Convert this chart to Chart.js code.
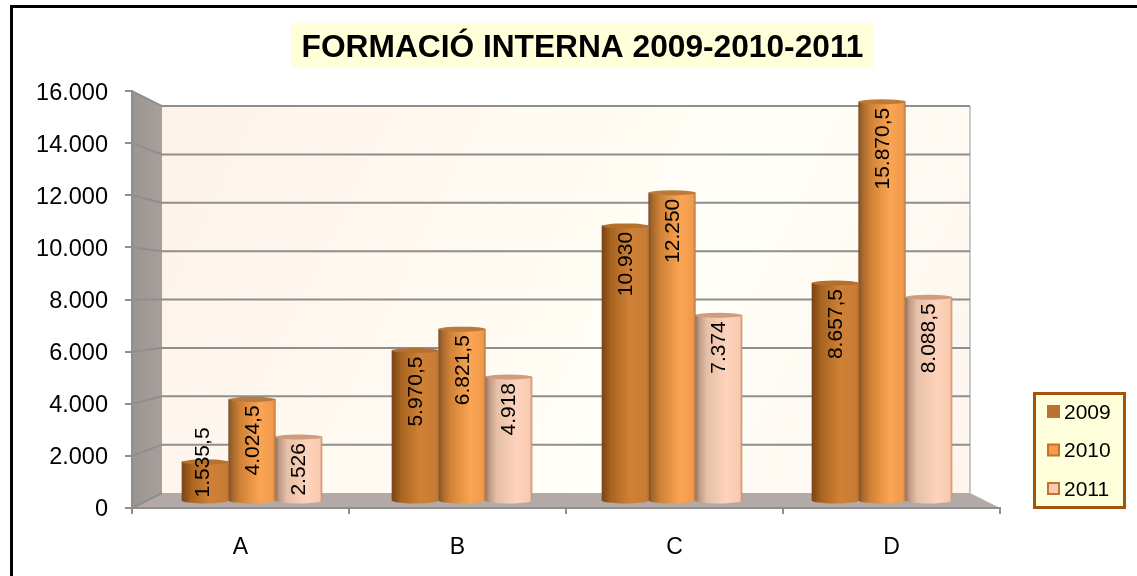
<!DOCTYPE html>
<html><head><meta charset="utf-8">
<style>html,body{margin:0;padding:0;background:#fff;overflow:hidden}#w{position:relative;width:1137px;height:576px}</style>
<script src="https://cdn.jsdelivr.net/npm/chart.js@4"></script>
</head><body><div id="w"><canvas id="c" width="1137" height="576"></canvas></div>
<script>
const categories = ['A','B','C','D'];
const seriesNames = ['2009','2010','2011'];
const values2009 = [1535.5, 5970.5, 10930, 8657.5];
const values2010 = [4024.5, 6821.5, 12250, 15870.5];
const values2011 = [2526, 4918, 7374, 8088.5];
const yMin = 0, yMax = 16000, yStep = 2000;
const fontName = '"Liberation Sans", Arial, sans-serif';

const fmt = v => {
  const [i, d] = String(v).split('.');
  return i.replace(/\B(?=(\d{3})+$)/g, '.') + (d ? ',' + d : '');
};
const stops = [
  [[0,'#7a4518'],[.2,'#a9641f'],[.6,'#d08136'],[.95,'#c87b34'],[1,'#b06c30']],
  [[0,'#7f5028'],[.07,'#a2662c'],[.25,'#d08236'],[.68,'#fba552'],[.95,'#ef9a4d'],[1,'#bd7a3e']],
  [[0,'#8f7262'],[.08,'#bd9884'],[.25,'#e6c0a8'],[.68,'#fed3bc'],[.95,'#f8caae'],[1,'#c8916c']]
];
const capColors = ['#b4702f','#bb7a3c','#cf9d7d'];
const legendFill = ['#bd6f2f','#fb9a46','#fbc8b2'];
const legendEdge = ['#b87436','#bd7434','#bd7434'];

// Depth of the 3D box: how far each plane is drawn in from the front one
const backFactor = 387/417, depthX = 30;
const mapY = (s, v, f) => { const c=(s.top+s.bottom)/2; return c+(s.getPixelForValue(v)-c)*f; };

const walls = {
  id:'walls',
  afterLayout(chart){
    const t = chart.titleBlock;
    t.left = 291; t.right = 874;
  },
  beforeDraw(chart){
    const {ctx, chartArea:a, scales:{y}} = chart;
    const bl=a.left+depthX, br=a.right-depthX, bt=mapY(y,yMax,backFactor), bb=mapY(y,yMin,backFactor);
    ctx.save();
    ctx.strokeStyle='#000'; ctx.lineWidth=3;
    ctx.beginPath(); ctx.moveTo(11.5,576); ctx.lineTo(11.5,6.5); ctx.lineTo(1137,6.5); ctx.stroke();
    ctx.fillStyle='#ffffd9'; ctx.fillRect(291,23,583,45);
    let g=ctx.createLinearGradient(bl,bt,br,bb);
    g.addColorStop(0,'#fdf2ea'); g.addColorStop(.45,'#fffbf2'); g.addColorStop(.62,'#fffff8'); g.addColorStop(1,'#fdf4ec');
    ctx.fillStyle=g; ctx.fillRect(bl,bt,br-bl,bb-bt);
    g=ctx.createLinearGradient(a.left,0,bl,0);
    g.addColorStop(0,'#9a9592'); g.addColorStop(1,'#a89f9b');
    ctx.fillStyle=g;
    ctx.beginPath(); ctx.moveTo(a.left,a.top); ctx.lineTo(bl,bt); ctx.lineTo(bl,bb); ctx.lineTo(a.left,a.bottom); ctx.closePath(); ctx.fill();
    ctx.fillStyle='#b3aaa7';
    ctx.beginPath(); ctx.moveTo(a.left,a.bottom); ctx.lineTo(bl,bb); ctx.lineTo(br,bb); ctx.lineTo(a.right,a.bottom); ctx.closePath(); ctx.fill();
    ctx.strokeStyle='#b9b9b9'; ctx.lineWidth=1.5;
    ctx.beginPath(); ctx.moveTo(br,bt); ctx.lineTo(br,bb); ctx.stroke();
    ctx.strokeStyle='#8e8e8e'; ctx.lineWidth=2;
    y.ticks.forEach(t=>{
      const f=y.getPixelForValue(t.value), b=mapY(y,t.value,backFactor);
      ctx.beginPath(); ctx.moveTo(a.left,f); ctx.lineTo(bl,b);
      if(t.value!==yMin) ctx.lineTo(br,b);
      ctx.stroke();
    });
    ctx.restore();
  },
  beforeDatasetDraw(chart,args){
    const {ctx}=chart, meta=args.meta, k=args.index;
    meta.data.forEach(el=>{
      const w=el.width, x0=el.x-w/2;
      const g=ctx.createLinearGradient(x0,0,x0+w,0);
      stops[k].forEach(s=>g.addColorStop(s[0],s[1]));
      el.options=Object.assign({},el.options,{backgroundColor:g});
      ctx.save(); ctx.fillStyle=g;
      ctx.beginPath(); ctx.ellipse(el.x,el.base,w/2,3,0,0,Math.PI*2); ctx.fill();
      ctx.restore();
    });
  },
  afterDatasetDraw(chart,args){
    const {ctx}=chart, meta=args.meta, k=args.index;
    meta.data.forEach(el=>{
      ctx.save(); ctx.fillStyle=capColors[k];
      ctx.beginPath(); ctx.ellipse(el.x,el.y,el.width/2,2.5,0,0,Math.PI*2); ctx.fill();
      ctx.restore();
    });
  },
  afterDatasetsDraw(chart){
    const {ctx}=chart;
    ctx.save();
    ctx.font='21px '+fontName; ctx.fillStyle='#000'; ctx.textBaseline='middle';
    chart.data.datasets.forEach((ds,k)=>{
      chart.getDatasetMeta(k).data.forEach((el,i)=>{
        const text=fmt(ds.data[i].y), len=ctx.measureText(text).width;
        const bottom=el.base-3, top=el.y+6;
        ctx.save();
        ctx.translate(el.x+1-(len>bottom-top?3:0),0);
        ctx.rotate(-Math.PI/2);
        if(len>bottom-top){ ctx.textAlign='left'; ctx.fillText(text,-bottom,0); }
        else { ctx.textAlign='right'; ctx.fillText(text,-top,0); }
        ctx.restore();
      });
    });
    ctx.fillStyle='#ffffdc'; ctx.strokeStyle='#a3530f'; ctx.lineWidth=3;
    ctx.beginPath(); ctx.rect(1034.5,393.5,90,114); ctx.fill(); ctx.stroke();
    ctx.font='21px '+fontName; ctx.textAlign='left';
    seriesNames.forEach((n,i)=>{
      const yy=412+i*38.5;
      ctx.fillStyle=legendFill[i]; ctx.strokeStyle=legendEdge[i]; ctx.lineWidth=2;
      ctx.beginPath(); ctx.rect(1048,yy-6,11,11); ctx.fill(); ctx.stroke();
      ctx.fillStyle='#000'; ctx.fillText(n,1064,yy+1);
    });
    ctx.restore();
  }
};

const scaleRange = 417/(402/16000);
const zeroOffset = 7.5/(402/16000);

new Chart(document.getElementById('c'),{
  type:'bar',
  plugins:[walls],
  data:{
    labels:categories,
    datasets:[values2009,values2010,values2011].map((vals,k)=>({
      label:seriesNames[k],
      data:vals.map((v,i)=>({x:i,y:v})),
      xAxisID:'xBar', yAxisID:'yBar',
      backgroundColor:legendFill[k],
      borderWidth:0,
      barThickness:46.67
    }))
  },
  options:{
    responsive:false, animation:false,
    layout:{padding:{left:0,right:137,top:0,bottom:0}},
    plugins:{
      legend:{display:false}, tooltip:{enabled:false},
      title:{display:true,text:'FORMACIÓ INTERNA 2009-2010-2011',color:'#000',
        font:{family:fontName,size:31.7,weight:'bold',lineHeight:1.2},padding:{top:29,bottom:24}}
    },
    scales:{
      x:{type:'category',position:'bottom',offset:true,
        grid:{offset:true,drawOnChartArea:false,color:'#8e8e8e',lineWidth:2,tickLength:6},
        border:{color:'#8e8e8e',width:2},
        ticks:{color:'#000',font:{family:fontName,size:23},padding:20,maxRotation:0},
        afterFit(s){s.height=68;}},
      y:{type:'linear',position:'left',min:yMin,max:yMax,
        grid:{drawOnChartArea:false,color:'#8e8e8e',lineWidth:2,tickLength:7},
        border:{color:'#8e8e8e',width:2},
        ticks:{stepSize:yStep,color:'#000',font:{family:fontName,size:23.5},padding:17,labelOffset:2,callback:v=>fmt(v)},
        afterFit(s){s.width=132;}},
      xBar:{type:'linear',display:false,offset:false,min:-0.5-15/210,max:3.5+13/210,grid:{offset:false}},
      yBar:{type:'linear',display:false,min:-zeroOffset,max:scaleRange-zeroOffset}
    }
  }
});
</script></body></html>
